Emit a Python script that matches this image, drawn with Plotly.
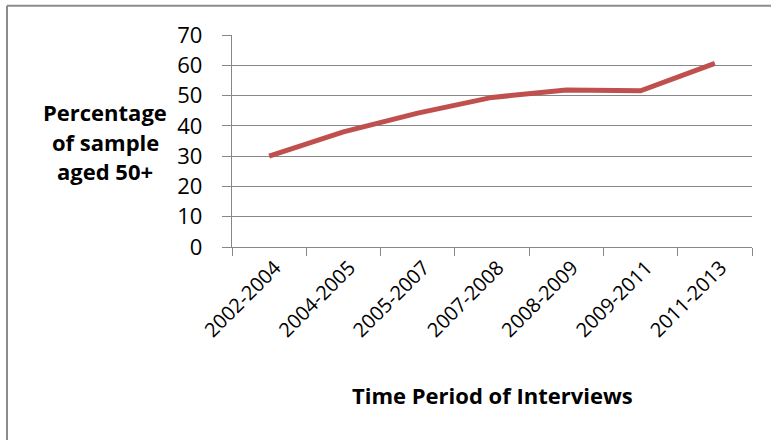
import plotly.graph_objects as go

periods = ["2002-2004", "2004-2005", "2005-2007", "2007-2008", "2008-2009", "2009-2011", "2011-2013"]
pct_50plus = [30.0, 38.0, 44.2, 49.4, 51.8, 51.6, 60.6]
y_ticks = [0, 10, 20, 30, 40, 50, 60, 70]
y_title_lines = ["Percentage", "of sample", "aged 50+"]
x_title = "Time Period of Interviews"

W, H = 771, 440
L, R, T, B = 232, 752, 34.5, 247.5
pw, ph = R - L, B - T

def px_x(x):
    return (x - L) / pw

def px_y(y):
    return (B - y) / ph

FONT = "Open Sans"
GRAY = "#878787"

fig = go.Figure()
fig.add_trace(go.Scatter(
    x=periods, y=pct_50plus, mode="lines",
    line=dict(color="#C0504D", width=5),
    showlegend=False, hoverinfo="x+y",
))

fig.update_layout(
    width=W, height=H, autosize=False,
    margin=dict(l=L, r=W - R, t=T, b=H - B, pad=0),
    paper_bgcolor="white", plot_bgcolor="white",
    font=dict(family=FONT, color="black", size=20),
)

fig.update_xaxes(
    type="category", range=[-0.5, len(periods) - 0.5],
    tickson="boundaries", ticks="outside", ticklen=8, tickcolor=GRAY, tickwidth=1.3,
    showline=True, linecolor=GRAY, linewidth=1.3,
    showgrid=False, zeroline=False,
    tickangle=-45, tickfont=dict(family=FONT, size=20, color="black"),
    ticklabelshift=6,
)
fig.update_yaxes(
    range=[0, 70], tickvals=y_ticks, ticks="outside", ticklen=9, tickcolor=GRAY, tickwidth=1.3,
    showline=True, linecolor=GRAY, linewidth=1.3,
    showgrid=True, gridcolor=GRAY, gridwidth=1.3, zeroline=False,
    tickfont=dict(family=FONT, size=22, color="black"),
    ticklabelstandoff=15,
)

# y-axis title as horizontal, centred lines
for line, yc in zip(y_title_lines, [112, 142, 171]):
    fig.add_annotation(
        text=f"<b>{line}</b>", xref="paper", yref="paper",
        x=px_x(105), y=px_y(yc), xanchor="center", yanchor="middle",
        showarrow=False, font=dict(family=FONT, size=22, color="black"),
    )

fig.add_annotation(
    text=f"<b>{x_title}</b>", xref="paper", yref="paper",
    x=px_x(492), y=px_y(396), xanchor="center", yanchor="middle",
    showarrow=False, font=dict(family=FONT, size=22, color="black"),
)

# chart border (left and top edges visible)
bx, by = px_x(7), px_y(5)
fig.add_shape(type="line", xref="paper", yref="paper", x0=bx, x1=bx, y0=by, y1=px_y(600),
              line=dict(color="#8c8c8c", width=2))
fig.add_shape(type="line", xref="paper", yref="paper", x0=bx, x1=px_x(1000), y0=by, y1=by,
              line=dict(color="#8c8c8c", width=2))

fig.write_html("out.html")
